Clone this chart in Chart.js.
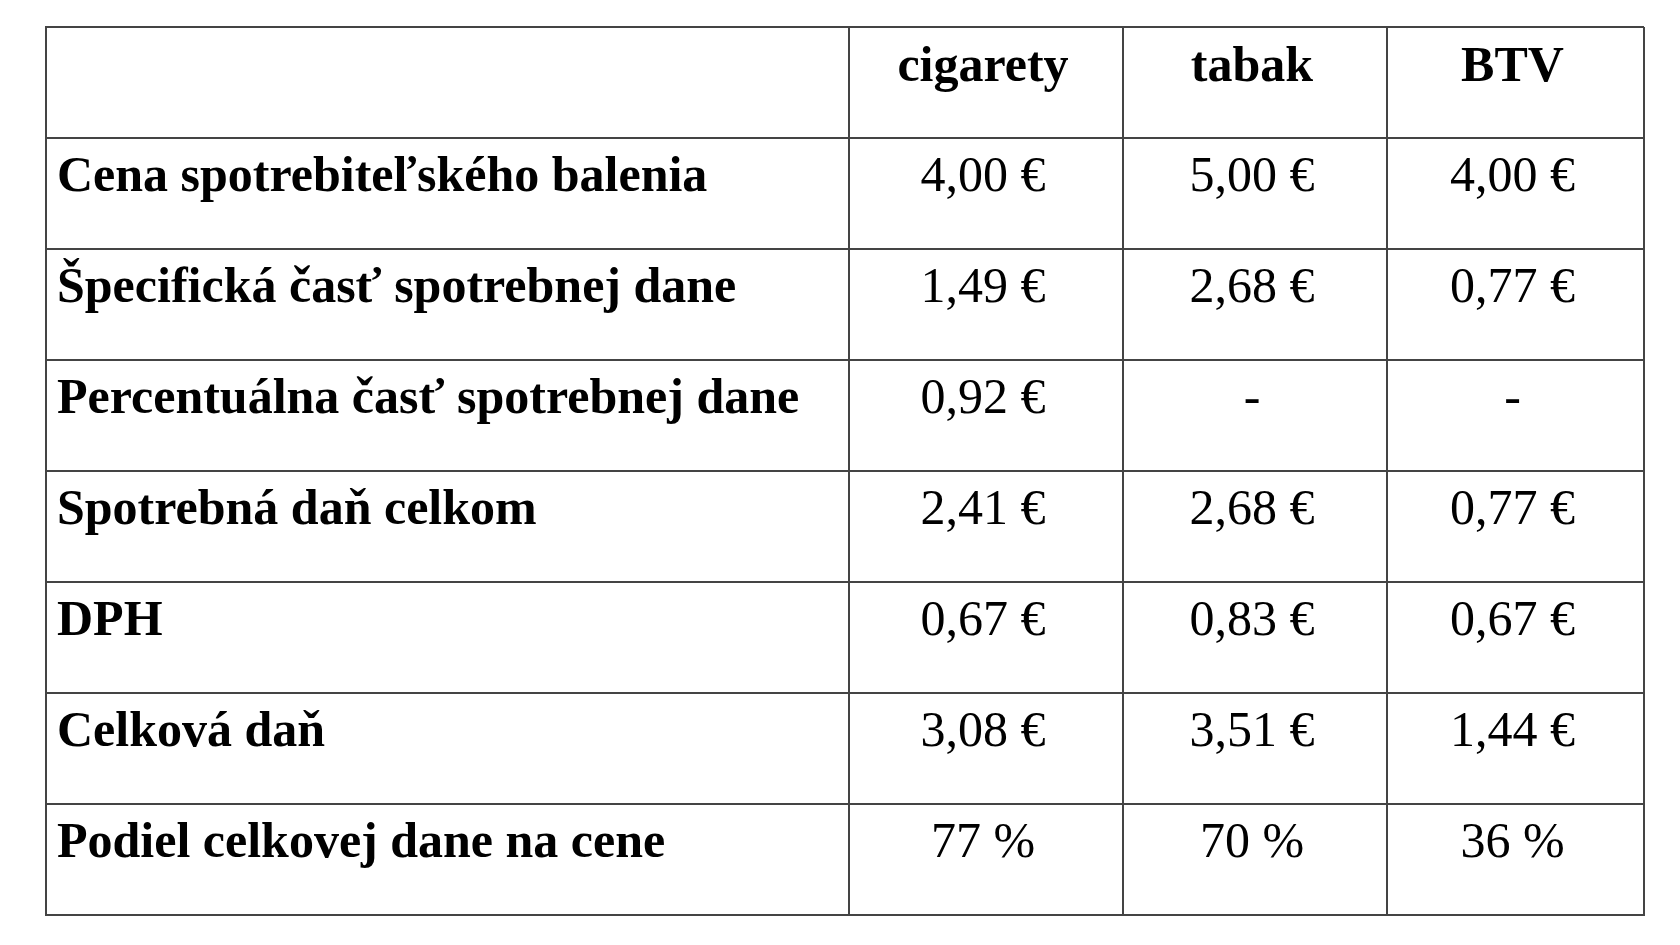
<!DOCTYPE html>
<html><head><meta charset="utf-8">
<script src="https://cdn.jsdelivr.net/npm/chart.js@4"></script>
<style>html,body{margin:0;padding:0;background:#fff}#w{width:1680px;height:945px}</style>
</head><body><div id="w"><canvas id="c"></canvas></div>
<script>
const columns = ["cigarety", "tabak", "BTV"];
const rowLabels = ["Cena spotrebiteľského balenia", "Špecifická časť spotrebnej dane", "Percentuálna časť spotrebnej dane", "Spotrebná daň celkom", "DPH", "Celková daň", "Podiel celkovej dane na cene"];
const cigarety = ["4,00 €", "1,49 €", "0,92 €", "2,41 €", "0,67 €", "3,08 €", "77 %"];
const tabak = ["5,00 €", "2,68 €", "-", "2,68 €", "0,83 €", "3,51 €", "70 %"];
const btv = ["4,00 €", "0,77 €", "-", "0,77 €", "0,67 €", "1,44 €", "36 %"];
const colEdges = [0, 803, 1077, 1341, 1598];

const tablePlugin = {
  id: 'table',
  afterDraw(chart) {
    const ctx = chart.ctx, xs = chart.scales.x, ys = chart.scales.y;
    ctx.save();
    ctx.fillStyle = '#000';
    ctx.textBaseline = 'middle';
    const vals = [cigarety, tabak, btv];
    ctx.font = 'bold 50px "Liberation Serif"';
    ctx.textAlign = 'center';
    columns.forEach((c, j) => {
      const cx = (xs.getPixelForValue(colEdges[j+1]) + xs.getPixelForValue(colEdges[j+2])) / 2;
      ctx.fillText(c, cx - 3, ys.getPixelForValue(0.37));
    });
    rowLabels.forEach((r, i) => {
      const y = ys.getPixelForValue(i + 1 + 0.36);
      ctx.font = 'bold 50px "Liberation Serif"';
      ctx.textAlign = 'left';
      ctx.fillText(r, xs.getPixelForValue(0) + 11, y);
      ctx.font = '50px "Liberation Serif"';
      ctx.textAlign = 'center';
      vals.forEach((v, j) => {
        const cx = (xs.getPixelForValue(colEdges[j+1]) + xs.getPixelForValue(colEdges[j+2])) / 2;
        ctx.fillText(v[i], cx - 3, y);
      });
    });
    ctx.restore();
  }
};

new Chart(document.getElementById('c'), {
  type: 'scatter',
  data: { datasets: [{ data: [], pointRadius: 0 }] },
  options: {
    responsive: true, maintainAspectRatio: false, animation: false,
    layout: { padding: { left: 46, top: 27, right: 36, bottom: 30 } },
    plugins: { legend: { display: false }, tooltip: { enabled: false } },
    scales: {
      x: { type: 'linear', min: 0, max: colEdges[colEdges.length-1],
        afterBuildTicks: s => { s.ticks = colEdges.map(v => ({ value: v })); },
        ticks: { display: false },
        grid: { color: '#444', lineWidth: 2, drawTicks: false },
        border: { display: true, color: '#444', width: 2 } },
      y: { type: 'linear', min: 0, max: rowLabels.length + 1, reverse: true,
        ticks: { display: false, stepSize: 1 },
        grid: { color: '#444', lineWidth: 2, drawTicks: false },
        border: { display: true, color: '#444', width: 2 } }
    }
  },
  plugins: [tablePlugin]
});
</script></body></html>
